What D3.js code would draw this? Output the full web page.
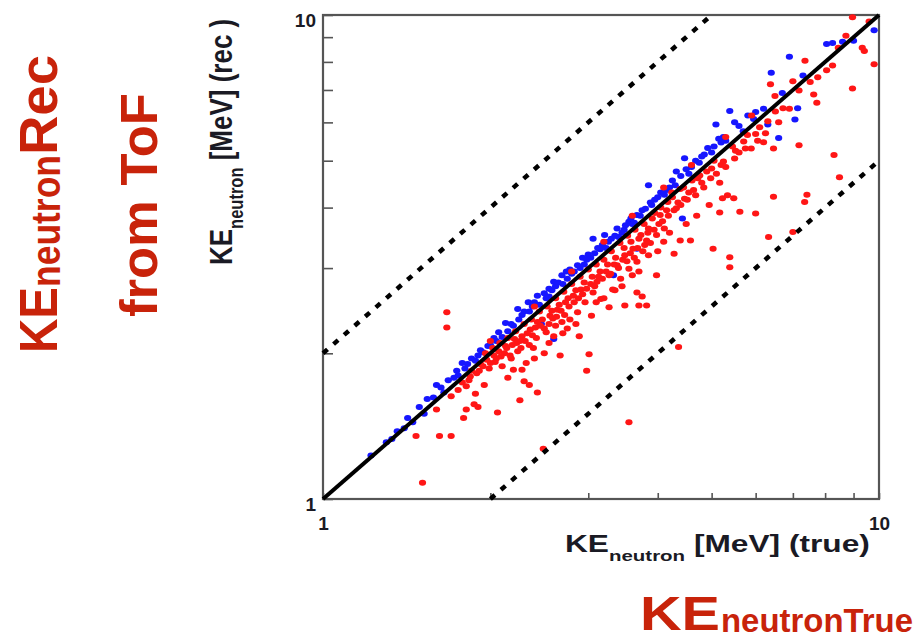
<!DOCTYPE html>
<html>
<head>
<meta charset="utf-8">
<script src="https://cdn.jsdelivr.net/npm/d3@7"></script>
<style>
  body { margin: 0; background: #fff; }
  svg { display: block; }
  text { font-family: "Liberation Sans", Arial, Helvetica, sans-serif; }
</style>
</head>
<body>
<div id="viz"></div>
<script>
// ---- data: [KE true, KE rec] in MeV ----
var bluePoints = [
  [1.22,1.23],[1.30,1.31],[1.33,1.33],[1.36,1.38],[1.40,1.40],[1.42,1.47],[1.45,1.44],[1.49,1.55],
  [1.52,1.50],[1.54,1.61],[1.58,1.62],[1.60,1.72],[1.63,1.70],[1.65,1.66],[1.68,1.76],[1.72,1.78],
  [1.74,1.84],[1.78,1.91],[1.82,1.90],[1.85,1.95],[1.88,1.93],[1.90,1.98],[1.94,2.01],[1.98,2.07],
  [2.00,2.08],[2.03,2.15],[2.07,2.21],[2.10,2.16],[2.13,2.31],[2.18,2.30],[2.20,2.28],[2.24,2.47],
  [2.28,2.40],[2.34,2.55],[2.35,2.44],[2.38,2.50],[2.43,2.63],[2.47,2.30],[2.50,2.66],[2.55,2.72],
  [2.55,2.62],[2.60,2.81],[2.60,2.14],[2.65,2.80],[2.69,2.90],[2.74,2.95],[2.75,2.85],[2.80,2.92],
  [2.87,3.04],[2.93,3.15],[2.95,3.05],[3.00,3.20],[3.06,3.45],[3.12,3.30],[3.15,3.28],[3.21,3.51],
  [3.26,3.40],[3.33,2.90],[3.35,3.50],[3.38,3.62],[3.45,3.55],[3.50,3.68],[3.55,3.74],[3.60,3.70],
  [3.67,3.86],[3.67,3.29],[3.75,3.95],[3.80,3.98],[3.85,4.45],[3.90,4.05],[4.00,4.20],[4.05,4.30],
  [4.11,4.25],[4.20,4.40],[4.25,4.55],[4.32,4.75],[4.40,4.65],[4.43,3.80],[4.47,5.06],[4.55,4.70],
  [4.60,4.85],[4.68,5.00],[4.80,5.10],[4.85,5.15],[4.92,5.31],[5.00,5.20],[5.09,5.94],[5.15,5.55],
  [5.20,5.45],[5.25,5.60],[5.39,6.33],[5.50,6.00],[5.81,6.20],[5.95,6.10],[6.31,5.94],[6.40,7.60],
  [6.60,5.57],[6.90,8.20],[7.06,6.08],[7.14,6.42],[8.05,8.71],[8.25,8.75],[9.00,8.85],[9.80,9.30],
  [1.75,1.80],[1.80,1.86],[1.92,2.03],[2.05,2.12],[2.15,2.22],[2.25,2.35],[2.30,2.44],[2.40,2.55],
  [2.45,2.52],[2.52,2.60],[2.58,2.70],[2.62,2.75],[2.70,2.78],[2.78,2.98],[2.83,2.95],[2.90,3.00],
  [2.98,3.12],[3.03,3.15],[3.08,3.22],[3.18,3.35],[3.23,3.30],[3.30,3.45],[3.40,3.48],[3.48,3.60],
  [3.58,3.80],[3.63,3.72],[3.72,3.85],[3.88,4.10],[3.95,4.15],[4.15,4.35],[4.30,4.45],[4.50,4.80],
  [4.75,4.95],[5.05,5.35],[5.30,5.50],[5.60,5.90],[5.70,5.75],[6.00,6.30],[6.20,6.40],[6.70,6.90],
  [7.30,7.50],[8.60,8.80]
];

var redPoints = [
  // far from the diagonal
  [1.67,2.43],[1.67,2.26],[1.51,1.08],[1.47,1.35],[1.62,1.35],[1.70,1.35],[2.49,1.27],[3.55,1.44],
  [4.36,2.06],[6.33,3.48],[7.00,3.56],[5.03,3.29],[5.39,3.16],[5.39,3.01],[6.46,4.21],[7.42,4.25],
  [7.35,4.11],[5.62,3.92],[6.00,3.89],[8.30,5.14],[8.49,4.62],[7.18,5.38],[8.96,7.05],[9.80,7.91],
  [9.41,8.43],[8.96,9.89],[7.73,6.59],[7.63,6.85],[7.36,8.04],[6.38,7.19],[4.39,3.42],[4.58,3.42],
  [4.28,3.21],[5.17,3.91],[5.23,4.18],[5.48,4.18],[3.85,3.19],[3.98,2.90],[3.67,2.67],[3.75,2.62],
  [3.82,2.51],[3.70,2.51],[3.49,2.51],[3.27,2.49],[3.04,2.39],[2.89,2.17],[3.01,1.99],[2.98,1.84],
  [2.67,1.98],[2.43,1.66],[2.35,1.72],[2.26,1.60],[2.06,1.51],[1.90,1.55],[1.87,1.57],[1.81,1.53],
  [1.79,1.47],
  // main band
  [1.60,1.53],[1.70,1.63],[1.75,1.68],[1.81,1.71],[1.84,1.79],[1.89,1.82],[1.94,1.88],[1.97,1.94],
  [2.00,1.91],[2.03,1.98],[2.07,2.02],[2.10,1.88],[2.13,2.07],[2.17,1.98],[2.21,2.14],[2.24,2.02],
  [2.28,2.17],[2.32,1.91],[2.36,2.24],[2.28,1.85],[2.39,2.05],[2.43,2.32],[2.52,2.21],[2.56,2.39],
  [2.60,2.17],[2.64,2.46],[2.69,2.32],[2.73,2.55],[2.78,2.35],[2.82,2.63],[2.87,2.43],[2.91,2.71],
  [2.96,2.55],[3.06,2.67],[3.11,2.81],[3.16,2.59],[3.27,2.90],[3.32,2.71],[3.38,3.04],[3.43,2.85],
  [3.49,3.19],[3.55,2.99],[3.61,3.29],[3.67,3.09],[3.73,3.51],[3.79,3.35],[3.85,3.62],[3.91,3.80],
  [3.98,3.51],[4.04,3.86],[4.11,3.62],[4.17,4.11],[4.24,4.30],[4.32,3.99],[4.39,4.37],[4.47,4.17],
  [4.61,4.55],[4.68,4.24],[4.76,4.66],[4.84,4.40],[5.00,4.82],[5.17,4.50],[5.25,4.98],[5.34,4.24],
  [5.52,5.24],[5.71,5.48],[5.89,5.30],[6.00,5.68],[6.10,5.86],[6.20,5.46],[6.31,6.03],[6.46,5.30],
  [6.51,6.32],[6.72,6.42],[7.18,6.98],[7.52,7.27],[7.76,7.44],[8.05,7.69],[8.25,7.86],[8.45,8.56],
  [8.72,9.06],[9.33,8.56],[9.60,9.70],
  [1.78,1.74],[1.83,1.76],[1.91,1.84],[1.99,1.86],[2.04,1.92],[2.09,1.97],[2.14,2.05],[2.18,1.95],
  [2.23,2.10],[2.27,2.05],[2.31,2.12],[2.35,2.08],[2.38,2.18],[2.42,2.15],[2.46,2.28],[2.50,2.25],
  [2.55,2.30],[2.59,2.36],[2.63,2.38],[2.68,2.45],[2.72,2.40],[2.77,2.50],[2.83,2.55],[2.88,2.60],
  [2.93,2.65],[2.98,2.72],[3.03,2.78],[3.08,2.75],[3.13,2.88],[3.18,2.85],[3.23,2.95],[3.29,2.92],
  [3.34,3.05],[3.40,3.00],[3.46,3.12],[3.52,3.10],[3.57,3.22],[3.63,3.15],[3.68,3.30],[3.76,3.25],
  [3.82,3.42],[3.88,3.38],[3.94,3.60],[4.02,3.70],[4.08,3.75],[4.18,3.85],[4.28,3.95],[4.40,4.05],
  [4.52,4.15],[4.64,4.35],[4.80,4.50],[4.98,4.60],[5.10,4.70],[5.30,4.85],[5.50,5.05],[5.75,5.30],
  [6.05,5.50],[6.25,5.70],[6.60,6.00],[6.90,6.40],
  // close to the line
  [1.85,1.84],[1.92,1.90],[1.96,2.00],[2.02,2.05],[2.05,1.95],[2.08,2.10],[2.12,2.00],[2.15,2.15],
  [2.19,2.08],[2.22,2.22],[2.26,2.12],[2.30,2.30],[2.33,2.20],[2.37,2.35],[2.41,2.26],[2.45,2.44],
  [2.48,2.35],[2.53,2.50],[2.58,2.45],[2.62,2.60],[2.66,2.52],[2.71,2.68],[2.76,2.60],[2.80,2.78],
  [2.85,2.70],[2.90,2.88],[2.95,2.80],[3.00,2.98],[3.05,2.88],[3.10,3.05],[3.15,2.95],[3.20,3.12],
  [3.25,3.05],[3.30,3.25],[3.36,3.15],[3.42,3.38],[3.48,3.30],[3.53,3.50],[3.58,3.40],[3.64,3.60],
  [3.70,3.45],[3.78,3.70],[3.84,3.55],[3.95,3.90],[4.05,4.00],[4.15,3.95],[4.25,4.20],[4.35,4.10],
  [4.45,4.40],[4.55,4.30],[4.72,4.60],[4.90,4.75],[5.05,5.00],[5.20,4.90],[5.45,5.35],[5.60,5.20],
  [5.80,5.65],
  // lower spread
  [2.55,2.10],[2.70,2.20],[2.75,2.25],[2.85,2.30],[2.62,2.28],[3.10,2.55],[3.20,2.60],[3.35,2.70],
  [3.45,2.75],[3.60,2.90],[3.70,2.95],[4.00,3.25],[4.10,3.40],[4.20,3.55],[4.50,3.70],[4.70,3.85],
  [4.95,4.05],[2.20,1.85],[2.15,1.78],[2.40,1.95],[2.50,2.00],[1.95,1.72],[1.88,1.65],[2.30,1.75],
  // a few above
  [2.00,2.12],[2.40,2.50],[2.80,2.95],[3.20,3.40],[3.60,3.85],[4.10,4.40],[4.60,4.90],[5.30,5.60],
  [5.90,6.20],[6.50,6.80],[7.00,7.30]
];

// reference lines rec = k * true
var refSlopes = [2, 0.5];
var axisTicks = [1, 2, 3, 4, 5, 6, 7, 8, 9, 10];
var tickLabels = [1, 10];

var W = 922, H = 642;
var plot = {left: 323, right: 879, top: 15, bottom: 499};
var redText = "#c8230a";

var svg = d3.select("#viz").append("svg")
  .attr("width", W).attr("height", H);

// soft edge like the scanned original
svg.append("defs").append("filter").attr("id", "soft")
  .append("feGaussianBlur").attr("stdDeviation", 0.5);

var xScale = d3.scaleLog().domain([1, 10]).range([plot.left, plot.right]);
var yScale = d3.scaleLog().domain([1, 10]).range([plot.bottom, plot.top]);

// frame
svg.append("rect")
  .attr("x", plot.left).attr("y", plot.top)
  .attr("width", plot.right - plot.left).attr("height", plot.bottom - plot.top)
  .attr("fill", "none").attr("stroke", "#555").attr("stroke-width", 2.2);

// axes (ticks inward)
var fmt = function(d) { return tickLabels.indexOf(d) >= 0 ? d : ""; };
var xAxis = d3.axisBottom(xScale).tickValues(axisTicks).tickSize(-6).tickPadding(18).tickFormat(fmt);
var yAxis = d3.axisLeft(yScale).tickValues(axisTicks).tickSize(-10).tickPadding(7).tickFormat(fmt);

var gx = svg.append("g").attr("transform", "translate(0," + plot.bottom + ")").call(xAxis);
var gy = svg.append("g").attr("transform", "translate(" + plot.left + ",0)").call(yAxis);
[gx, gy].forEach(function(g) {
  g.select(".domain").remove();
  g.selectAll(".tick line").attr("stroke", "#555").attr("stroke-width", 1.6);
  g.selectAll(".tick text")
    .attr("fill", "#1a1a24")
    .style("font-size", "19px")
    .style("font-weight", "bold");
});
gy.selectAll(".tick text").attr("dy", "0.6em");

// points (slightly wider than tall, the picture is stretched sideways)
var pts = svg.append("g").attr("filter", "url(#soft)");
pts.selectAll(".blue").data(bluePoints).enter().append("ellipse")
  .attr("class", "blue")
  .attr("cx", function(d) { return xScale(d[0]); })
  .attr("cy", function(d) { return yScale(d[1]); })
  .attr("rx", 3.6).attr("ry", 3.0)
  .attr("fill", "#1414ff");
pts.selectAll(".red").data(redPoints).enter().append("ellipse")
  .attr("class", "red")
  .attr("cx", function(d) { return xScale(d[0]); })
  .attr("cy", function(d) { return yScale(d[1]); })
  .attr("rx", 3.6).attr("ry", 3.0)
  .attr("fill", "#ff1414");

// dashed reference lines, clipped to the frame
refSlopes.forEach(function(k) {
  var x0 = Math.max(1, 1 / k), x1 = Math.min(10, 10 / k);
  svg.append("line")
    .attr("x1", xScale(x0)).attr("y1", yScale(k * x0))
    .attr("x2", xScale(x1)).attr("y2", yScale(k * x1))
    .attr("stroke", "#000").attr("stroke-width", 4.5)
    .attr("stroke-dasharray", "6,8");
});
// rec = true
svg.append("line")
  .attr("x1", xScale(1)).attr("y1", yScale(1))
  .attr("x2", xScale(10)).attr("y2", yScale(10))
  .attr("stroke", "#000").attr("stroke-width", 4);

// axis titles (the picture is stretched sideways, hence the scale)
var xt = svg.append("text")
  .attr("transform", "translate(565,552) scale(1.32,1)")
  .attr("fill", "#1a1a24").style("font-weight", "bold").style("font-size", "24px");
xt.append("tspan").text("KE");
xt.append("tspan").attr("dy", 9).style("font-size", "15.5px").text("neutron");
xt.append("tspan").attr("dy", -9).text(" [MeV] (true)");

var yt = svg.append("text")
  .attr("transform", "translate(232,265) scale(1.2,1) rotate(-90)")
  .attr("fill", "#1a1a24").style("font-weight", "bold").style("font-size", "26px");
yt.append("tspan").text("KE");
yt.append("tspan").attr("dy", 9).style("font-size", "16.5px").text("neutron");
yt.append("tspan").attr("dy", -9).text(" [MeV] (rec )");

// red annotations
function redPiece(x, y, txt, size, len, rot) {
  svg.append("text")
    .attr("transform", "translate(" + x + "," + y + ")" + (rot ? " rotate(-90)" : ""))
    .attr("fill", redText).style("font-weight", "bold").style("font-size", size + "px")
    .attr("textLength", len).attr("lengthAdjust", "spacingAndGlyphs")
    .text(txt);
}
redPiece(57, 353, "KE", 54, 66, true);
redPiece(60, 287, "neutron", 40, 132, true);
redPiece(57, 155, "Rec", 54, 100, true);
redPiece(157, 317, "from ToF", 52, 224, true);
redPiece(640, 630, "KE", 48, 80, false);
redPiece(721, 632, "neutronTrue", 33, 192, false);
</script>
</body>
</html>
